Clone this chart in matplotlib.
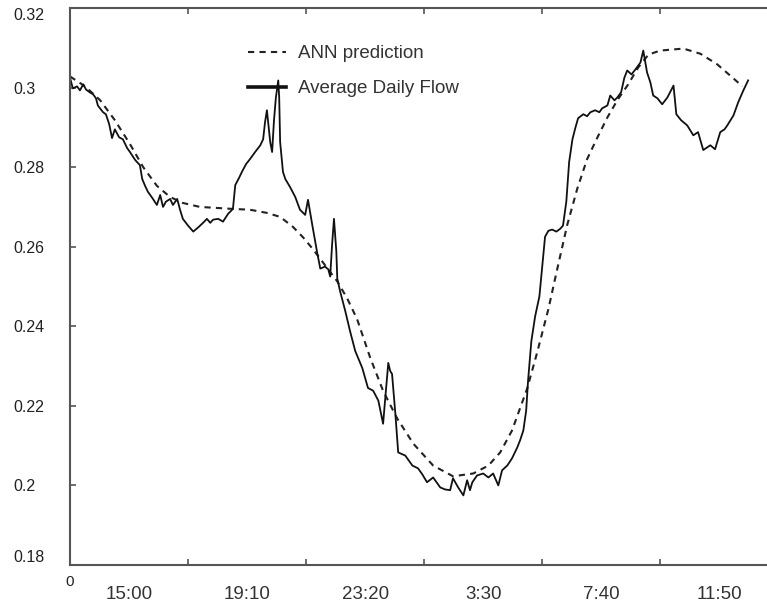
import numpy as np
import matplotlib
matplotlib.use("Agg")
import matplotlib.pyplot as plt

plt.rcParams["font.family"] = ["Liberation Sans", "DejaVu Sans"]

# minutes since the first sample, flow values
flow_t = [0, 6, 15, 21, 28, 34, 42, 49, 55, 59, 70, 76, 83, 89, 95, 104, 112, 121, 127, 138,
          148, 153, 159, 165, 174, 184, 191, 197, 203, 212, 218, 227, 233, 239, 250, 261, 271, 280, 290, 297,
          303, 314, 324, 335, 345, 350, 358, 364, 373, 381, 392, 403, 409, 413, 417, 424, 428, 432, 436, 441,
          443, 445, 451, 456, 466, 477, 487, 498, 504, 513, 523, 530, 540, 547, 551, 555, 559, 564, 566, 572,
          583, 593, 604, 619, 631, 642, 653, 663, 669, 674, 678, 682, 689, 695, 710, 725, 737, 746, 756, 769,
          784, 794, 805, 811, 822, 833, 841, 847, 852, 862, 875, 886, 896, 907, 915, 926, 936, 947, 953, 960,
          966, 970, 977, 985, 994, 1000, 1006, 1013, 1021, 1030, 1038, 1044, 1051, 1057, 1064, 1070, 1076, 1087, 1095, 1102,
          1112, 1121, 1127, 1138, 1144, 1153, 1159, 1167, 1174, 1180, 1189, 1197, 1208, 1214, 1222, 1229, 1235, 1244, 1254, 1265,
          1278, 1284, 1294, 1307, 1320, 1330, 1341, 1356, 1366, 1377, 1386, 1392, 1405, 1415, 1426, 1436]
flow = [0.3025, 0.2998, 0.3003, 0.2993, 0.3008, 0.2995, 0.2988, 0.2983, 0.2973, 0.2955,
        0.2938, 0.2933, 0.2908, 0.2873, 0.2895, 0.2875, 0.2870, 0.2848, 0.2838, 0.2818,
        0.2805, 0.2770, 0.2753, 0.2738, 0.2723, 0.2705, 0.2730, 0.2700, 0.2713, 0.2720,
        0.2705, 0.2720, 0.2693, 0.2670, 0.2653, 0.2638, 0.2648, 0.2658, 0.2670, 0.2660,
        0.2668, 0.2670, 0.2663, 0.2683, 0.2695, 0.2755, 0.2773, 0.2788, 0.2808, 0.2820,
        0.2838, 0.2855, 0.2870, 0.2913, 0.2943, 0.2863, 0.2838, 0.2918, 0.2975, 0.3018,
        0.2975, 0.2863, 0.2788, 0.2770, 0.2750, 0.2725, 0.2693, 0.2680, 0.2718, 0.2655,
        0.2588, 0.2545, 0.2550, 0.2543, 0.2525, 0.2605, 0.2670, 0.2588, 0.2520, 0.2488,
        0.2438, 0.2388, 0.2338, 0.2295, 0.2245, 0.2238, 0.2213, 0.2155, 0.2238, 0.2308,
        0.2288, 0.2280, 0.2180, 0.2083, 0.2075, 0.2050, 0.2043, 0.2028, 0.2008, 0.2020,
        0.1995, 0.1990, 0.1988, 0.2018, 0.1995, 0.1975, 0.2013, 0.1988, 0.2008, 0.2025,
        0.2030, 0.2020, 0.2030, 0.2000, 0.2038, 0.2050, 0.2068, 0.2095, 0.2113, 0.2138,
        0.2188, 0.2263, 0.2363, 0.2425, 0.2475, 0.2550, 0.2625, 0.2640, 0.2643, 0.2638,
        0.2645, 0.2653, 0.2713, 0.2813, 0.2870, 0.2898, 0.2923, 0.2933, 0.2928, 0.2938,
        0.2943, 0.2938, 0.2948, 0.2955, 0.2980, 0.2968, 0.2975, 0.2988, 0.3025, 0.3043,
        0.3033, 0.3045, 0.3063, 0.3093, 0.3038, 0.3013, 0.2980, 0.2973, 0.2958, 0.2975,
        0.3005, 0.2933, 0.2918, 0.2905, 0.2880, 0.2888, 0.2843, 0.2855, 0.2845, 0.2888,
        0.2895, 0.2905, 0.2930, 0.2963, 0.2993, 0.3018]

ann_t = [0, 32, 64, 95, 127, 155, 184, 212, 239, 275, 345, 381, 417, 445, 472, 494, 515, 536,
         566, 587, 608, 636, 663, 693, 727, 769, 811, 854, 886, 911, 936, 968, 989, 1013,
         1032, 1053, 1074, 1095, 1117, 1138, 1159, 1182, 1203, 1225, 1250, 1299, 1335, 1371, 1405, 1424]
ann = [0.3028, 0.3003, 0.2968, 0.2918, 0.2858, 0.2800, 0.2753, 0.2725, 0.2710, 0.2700,
       0.2695, 0.2693, 0.2685, 0.2675, 0.2650, 0.2623, 0.2593, 0.2560, 0.2513, 0.2470,
       0.2418, 0.2320, 0.2238, 0.2168, 0.2105, 0.2050, 0.2023, 0.2030, 0.2050, 0.2083,
       0.2138, 0.2243, 0.2333, 0.2443, 0.2545, 0.2655, 0.2745, 0.2820, 0.2875, 0.2925,
       0.2968, 0.3008, 0.3050, 0.3083, 0.3093, 0.3098, 0.3085, 0.3058, 0.3023, 0.3003]

tick_pos = [0, 250, 500, 750, 1000, 1250]
label_pos = [125, 375, 625, 875, 1125, 1375]
time_labels = ["15:00", "19:10", "23:20", "3:30", "7:40", "11:50"]
y_ticks = [0.18, 0.2, 0.22, 0.24, 0.26, 0.28, 0.3, 0.32]
y_labels = ["0.18", "0.2", "0.22", "0.24", "0.26", "0.28", "0.3", "0.32"]

fig = plt.figure(figsize=(7.67, 6.03), dpi=100)
ax = fig.add_axes([70 / 767, 1 - 565 / 603, 1 - 70 / 767, 557 / 603])

ax.plot(ann_t, ann, color="#222222", lw=1.5, ls=(0, (3, 2.5)), label="ANN prediction")
ax.plot(flow_t, flow, color="#111111", lw=1.3, label="Average Daily Flow")

ax.set_xlim(0, 1476)
ax.set_ylim(0.18, 0.32)

spine_col = "#555555"
for side in ["left", "bottom", "top"]:
    ax.spines[side].set_color(spine_col)
    ax.spines[side].set_linewidth(1.5)
ax.spines["right"].set_visible(False)

ax.set_xticks(tick_pos)
ax.set_xticklabels(["0", "", "", "", "", ""])
ax.set_xticks(label_pos, minor=True)
ax.set_xticklabels(time_labels, minor=True)
ax.tick_params(axis="x", which="major", direction="in", length=4, width=1.2, color=spine_col,
               top=True, labelsize=11, pad=7, labelcolor="#222222")
ax.tick_params(axis="x", which="minor", length=0, labelsize=13.5, pad=15, labelcolor="#333333")

ax.set_yticks(y_ticks)
ax.set_yticklabels(y_labels)
ax.tick_params(axis="y", direction="in", length=4, width=1.2, color=spine_col,
               labelsize=11.5, pad=41, labelcolor="#222222")
ylabs = ax.get_yticklabels()
for lab in ylabs:
    lab.set_horizontalalignment("left")
ylabs[0].set_verticalalignment("bottom")
ylabs[-1].set_verticalalignment("top")

leg = fig.legend(loc="upper left", bbox_to_anchor=(248 / 767, 1 - 45 / 603), frameon=False,
                 fontsize=13.5, handlelength=2.0, handletextpad=0.65, borderpad=0,
                 borderaxespad=0, labelspacing=0.95)
leg.get_lines()[1].set_linewidth(2.6)
for txt in leg.get_texts():
    txt.set_color("#333333")

fig.savefig("out.png", dpi=100)
